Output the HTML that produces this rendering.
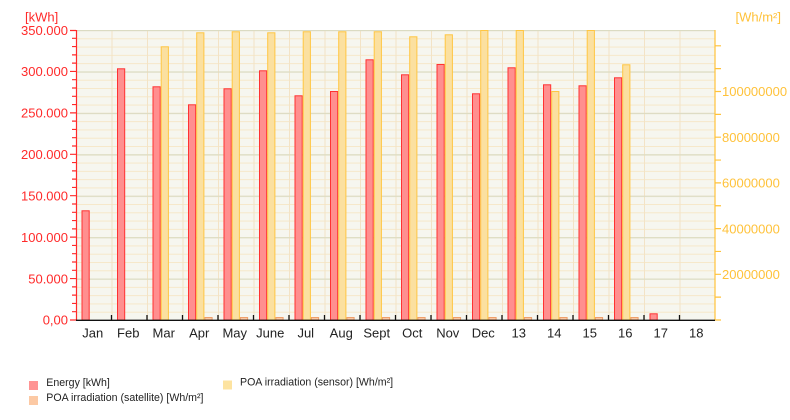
<!DOCTYPE html>
<html><head><meta charset="utf-8"><style>
html,body{margin:0;padding:0;background:#fff;}
svg{display:block;font-family:"Liberation Sans",Arial,sans-serif;}
</style></head><body>
<svg width="790" height="420" viewBox="0 0 790 420" xmlns="http://www.w3.org/2000/svg">
<defs>
<pattern id="minor" x="76" y="30" width="639" height="8.285714" patternUnits="userSpaceOnUse">
<rect x="0" y="0" width="639" height="1" fill="#f6e7c9"/>
</pattern>
<pattern id="major" x="76" y="30" width="639" height="41.428571" patternUnits="userSpaceOnUse">
<rect x="0" y="0" width="639" height="1.2" fill="#dbdbc2"/>
</pattern>
<pattern id="vert" x="76" y="30" width="35.5" height="290" patternUnits="userSpaceOnUse">
<rect x="0" y="0" width="1" height="290" fill="#f3e3c6"/>
</pattern>
</defs>
<rect x="76" y="30" width="639" height="290" fill="#f6f6ef"/>
<rect x="76" y="30" width="639" height="290" fill="url(#minor)"/>
<rect x="76" y="30" width="639" height="290" fill="url(#vert)"/>
<rect x="76" y="30" width="639" height="290" fill="url(#major)"/>

<!-- Energy bars -->
<g fill="#ff8f8f" stroke="#ff3232" stroke-width="1">
<rect x="82" y="210.8" width="7.2" height="109.2"/>
<rect x="117.5" y="68.8" width="7.2" height="251.2"/>
<rect x="153" y="86.8" width="7.2" height="233.2"/>
<rect x="188.5" y="104.8" width="7.2" height="215.2"/>
<rect x="224" y="88.8" width="7.2" height="231.2"/>
<rect x="259.5" y="70.8" width="7.2" height="249.2"/>
<rect x="295" y="95.8" width="7.2" height="224.2"/>
<rect x="330.5" y="91.5" width="7.2" height="228.5"/>
<rect x="366" y="59.8" width="7.2" height="260.2"/>
<rect x="401.5" y="74.8" width="7.2" height="245.2"/>
<rect x="437" y="64.5" width="7.2" height="255.5"/>
<rect x="472.5" y="93.8" width="7.2" height="226.2"/>
<rect x="508" y="67.8" width="7.2" height="252.2"/>
<rect x="543.5" y="84.8" width="7.2" height="235.2"/>
<rect x="579" y="85.8" width="7.2" height="234.2"/>
<rect x="614.5" y="77.8" width="7.2" height="242.2"/>
<rect x="650" y="313.8" width="7.2" height="6.2"/>
</g>
<!-- Sensor bars -->
<g fill="#fbe0a0" stroke="#ffc642" stroke-width="1">
<rect x="161.2" y="46.8" width="7.2" height="273.2"/>
<rect x="196.7" y="32.8" width="7.2" height="287.2"/>
<rect x="232.2" y="31.8" width="7.2" height="288.2"/>
<rect x="267.7" y="32.8" width="7.2" height="287.2"/>
<rect x="303.2" y="31.8" width="7.2" height="288.2"/>
<rect x="338.7" y="31.8" width="7.2" height="288.2"/>
<rect x="374.2" y="31.8" width="7.2" height="288.2"/>
<rect x="409.7" y="36.8" width="7.2" height="283.2"/>
<rect x="445.2" y="34.8" width="7.2" height="285.2"/>
<rect x="480.7" y="30.5" width="7.2" height="289.5"/>
<rect x="516.2" y="30.5" width="7.2" height="289.5"/>
<rect x="551.7" y="91.5" width="7.2" height="228.5"/>
<rect x="587.2" y="30.5" width="7.2" height="289.5"/>
<rect x="622.7" y="64.8" width="7.2" height="255.2"/>
</g>
<!-- Satellite bars -->
<g fill="#fcc9a4" stroke="#eea06c" stroke-width="1">
<rect x="204.9" y="317.5" width="7.2" height="2.5"/>
<rect x="240.4" y="317.5" width="7.2" height="2.5"/>
<rect x="275.9" y="317.5" width="7.2" height="2.5"/>
<rect x="311.4" y="317.5" width="7.2" height="2.5"/>
<rect x="346.9" y="317.5" width="7.2" height="2.5"/>
<rect x="382.4" y="317.5" width="7.2" height="2.5"/>
<rect x="417.9" y="317.5" width="7.2" height="2.5"/>
<rect x="453.4" y="317.5" width="7.2" height="2.5"/>
<rect x="488.9" y="317.5" width="7.2" height="2.5"/>
<rect x="524.4" y="317.5" width="7.2" height="2.5"/>
<rect x="559.9" y="317.5" width="7.2" height="2.5"/>
<rect x="595.4" y="317.5" width="7.2" height="2.5"/>
<rect x="630.9" y="317.5" width="7.2" height="2.5"/>
</g>

<!-- Left axis -->
<g stroke="#ff2a2a" stroke-width="1.2" fill="none">
<path d="M76.5 30V320"/>
<path d="M72 311.71H76M72 303.43H76M72 295.14H76M72 286.86H76M72 270.29H76M72 262H76M72 253.71H76M72 245.43H76M72 228.86H76M72 220.57H76M72 212.29H76M72 204H76M72 187.43H76M72 179.14H76M72 170.86H76M72 162.57H76M72 146H76M72 137.71H76M72 129.43H76M72 121.14H76M72 104.57H76M72 96.29H76M72 88H76M72 79.71H76M72 63.14H76M72 54.86H76M72 46.57H76M72 38.29H76"/>
<path d="M70 320H76M70 278.57H76M70 237.14H76M70 195.71H76M70 154.29H76M70 112.86H76M70 71.43H76M70 30.5H76"/>
</g>
<g fill="#ff2a2a" font-size="13" text-anchor="end">
<text x="68" y="324.7">0,00</text>
<text x="68" y="283.3">50.000</text>
<text x="68" y="241.8">100.000</text>
<text x="68" y="200.4">150.000</text>
<text x="68" y="159">200.000</text>
<text x="68" y="117.6">250.000</text>
<text x="68" y="76.1">300.000</text>
<text x="68" y="34.9">350.000</text>
</g>
<text x="25" y="21.5" fill="#ff2a2a" font-size="13">[kWh]</text>

<!-- Right axis -->
<g stroke="#ffc23a" stroke-width="1.2" fill="none">
<path d="M715 30V320"/>
<path d="M715 320H721M715 297.15H721M715 274.3H721M715 251.45H721M715 228.6H721M715 205.75H721M715 182.9H721M715 160.05H721M715 137.2H721M715 114.35H721M715 91.5H721M715 68.65H721M715 45.8H721"/>
</g>
<g fill="#ffc23a" font-size="13">
<text x="722" y="279">20000000</text>
<text x="722" y="233.3">40000000</text>
<text x="722" y="187.6">60000000</text>
<text x="722" y="141.9">80000000</text>
<text x="722" y="96.2">100000000</text>
</g>
<text x="735.5" y="21.5" fill="#ffc23a" font-size="13">[Wh/m²]</text>

<!-- Bottom axis -->
<g stroke="#111" stroke-width="1.3" fill="none">
<path d="M76 320.3H715"/>
<path d="M111.5 315V320M147 315V320M182.5 315V320M218 315V320M253.5 315V320M289 315V320M324.5 315V320M360 315V320M395.5 315V320M431 315V320M466.5 315V320M502 315V320M537.5 315V320M573 315V320M608.5 315V320M644 315V320M679.5 315V320"/>
</g>
<g fill="#222" font-size="13" text-anchor="middle">
<text x="92.75" y="337.5">Jan</text>
<text x="128.25" y="337.5">Feb</text>
<text x="163.75" y="337.5">Mar</text>
<text x="199.25" y="337.5">Apr</text>
<text x="234.75" y="337.5">May</text>
<text x="270.25" y="337.5">June</text>
<text x="305.75" y="337.5">Jul</text>
<text x="341.25" y="337.5">Aug</text>
<text x="376.75" y="337.5">Sept</text>
<text x="412.25" y="337.5">Oct</text>
<text x="447.75" y="337.5">Nov</text>
<text x="483.25" y="337.5">Dec</text>
<text x="518.75" y="337.5">13</text>
<text x="554.25" y="337.5">14</text>
<text x="589.75" y="337.5">15</text>
<text x="625.25" y="337.5">16</text>
<text x="660.75" y="337.5">17</text>
<text x="696.25" y="337.5">18</text>
</g>

<!-- Legend -->
<rect x="29" y="381" width="9" height="9" fill="#ff9494"/>
<rect x="29" y="396" width="9" height="9" fill="#fcc9a4"/>
<rect x="223" y="380.5" width="9" height="9" fill="#fde3a0"/>
<g fill="#222" font-size="10.6">
<text x="46.3" y="386">Energy [kWh]</text>
<text x="46.3" y="401">POA irradiation (satellite) [Wh/m²]</text>
<text x="240" y="385.7">POA irradiation (sensor) [Wh/m²]</text>
</g>
</svg>
</body></html>
